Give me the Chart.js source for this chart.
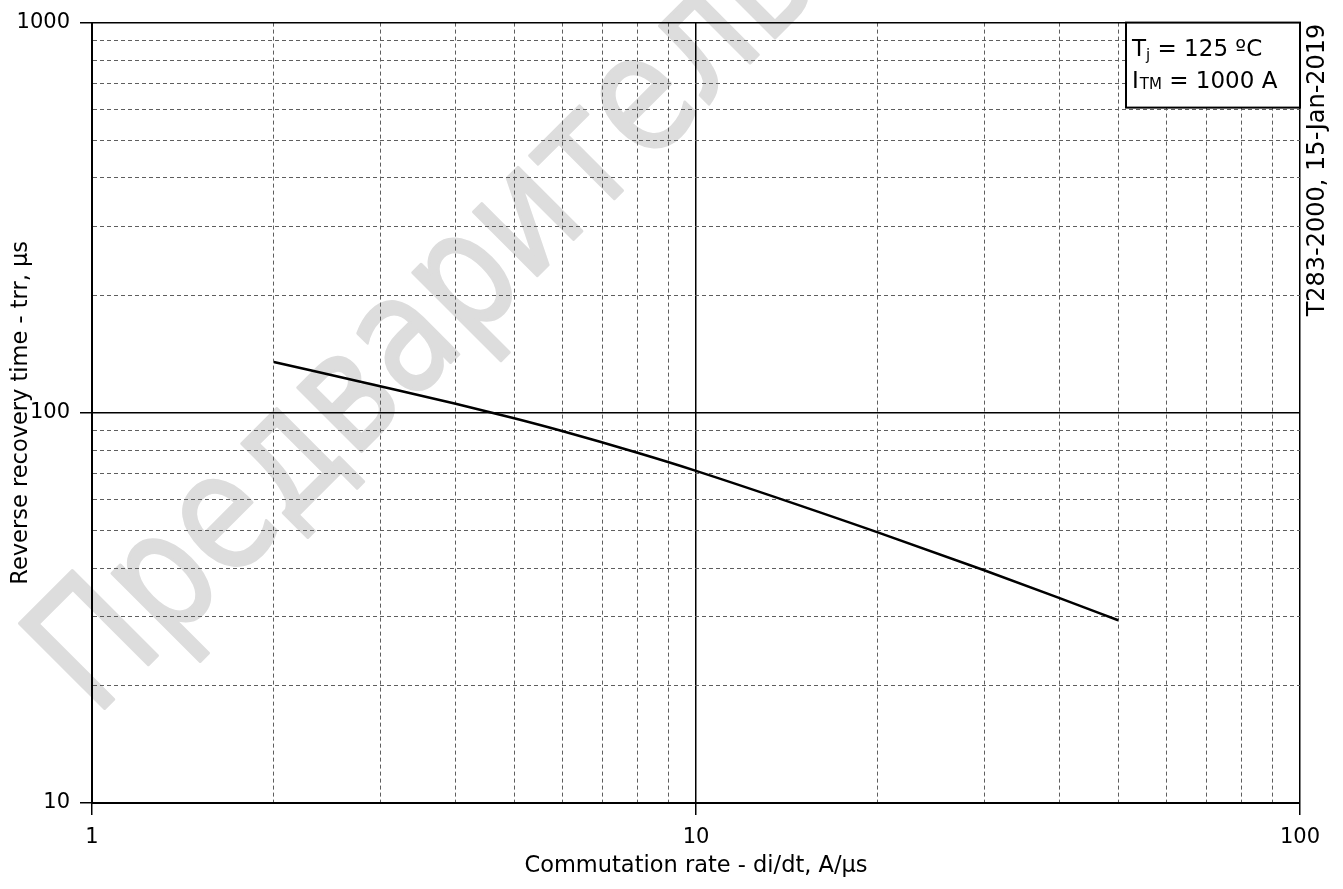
<!DOCTYPE html>
<html>
<head>
<meta charset="utf-8">
<title>Reverse recovery time vs commutation rate</title>
<script src="https://cdn.jsdelivr.net/npm/chart.js@4.4.1/dist/chart.umd.min.js"></script>
<style>
  html, body { margin: 0; padding: 0; background: #fff; }
  #wrap { width: 1343px; height: 889px; position: relative; }
</style>
</head>
<body>
<div id="wrap"><canvas id="chart"></canvas></div>
<script>
// Commutation rate di/dt, A/us
const commutationRate = [2, 3, 4, 5, 6, 8, 10, 20, 30, 40, 50];
// Reverse recovery time trr, us
const recoveryTime = [135, 117, 105.5, 96.8, 89.8, 79, 71, 49.4, 39.5, 33.5, 29.4];

// grid positions (log decades)
const xTickValues = [1, 2, 3, 4, 5, 6, 7, 8, 9, 10, 20, 30, 40, 50, 60, 70, 80, 90, 100];
const yTickValues = [10, 20, 30, 40, 50, 60, 70, 80, 90, 100, 200, 300, 400, 500, 600, 700, 800, 900, 1000];
const xMajor = [1, 10, 100];
const yMajor = [10, 100, 1000];

const conditionText = ['Tj = 125 ºC', 'ITM = 1000 A'];
const stampText = 'T283-2000, 15-Jan-2019';
const watermarkText = 'Предварительные';

const FONT = '"DejaVu Sans", Verdana, sans-serif';

// scale options shared by both axes
function logAxis(ticks, majors, min, max) {
    const isMajor = ctx => ctx.tick && majors.includes(ctx.tick.value);
    return {
        type: 'logarithmic',
        min: min,
        max: max,
        afterBuildTicks: scale => {
            scale.ticks = ticks.map(v => ({ value: v, major: majors.includes(v) }));
        },
        grid: {
            color: ctx => isMajor(ctx) ? '#000' : '#5e5e5e',
            lineWidth: ctx => isMajor(ctx) ? 1.5 : 1,
            tickColor: ctx => isMajor(ctx) ? '#000' : 'rgba(0,0,0,0)',
            tickLength: 12,
            tickWidth: 1.5
        },
        border: {
            display: true,
            color: '#000',
            width: 2,
            dash: ctx => (ctx.tick && !majors.includes(ctx.tick.value)) ? [4, 3] : []
        },
        ticks: {
            autoSkip: false,
            maxRotation: 0,
            color: '#000',
            padding: 10,
            font: { family: FONT, size: 21 },
            callback: value => majors.includes(value) ? String(value) : ''
        }
    };
}

const xAxis = logAxis(xTickValues, xMajor, 1, 100);
xAxis.title = {
    display: true,
    text: 'Commutation rate - di/dt, A/µs',
    color: '#000',
    font: { family: FONT, size: 22.5 },
    padding: { top: 0, bottom: 9 }
};
xAxis.afterFit = scale => { scale.height = 86; };

const yAxis = logAxis(yTickValues, yMajor, 10, 1000);
yAxis.title = {
    display: true,
    text: 'Reverse recovery time - trr, µs',
    color: '#000',
    font: { family: FONT, size: 22.5 },
    padding: { top: 8, bottom: 0 }
};
yAxis.afterFit = scale => { scale.width = 92; };

// big grey diagonal text behind the grid
const watermark = {
    id: 'watermark',
    beforeDraw(chart) {
        const ctx = chart.ctx;
        ctx.save();
        ctx.translate(95, 718);
        ctx.rotate(-45 * Math.PI / 180);
        ctx.scale(0.82, 1);
        ctx.fillStyle = '#dddddd';
        ctx.strokeStyle = '#dddddd';
        ctx.lineWidth = 3;
        ctx.lineJoin = 'round';
        ctx.font = '165px ' + FONT;
        ctx.textBaseline = 'alphabetic';
        ctx.textAlign = 'left';
        ctx.fillText(watermarkText, 0, 0);
        ctx.strokeText(watermarkText, 0, 0);
        ctx.restore();
    }
};

// conditions box in the top right corner + date stamp on the right
const annotations = {
    id: 'annotations',
    afterDraw(chart) {
        const ctx = chart.ctx;
        const area = chart.chartArea;
        ctx.save();

        const boxW = 174, boxH = 85;
        const bx = area.right - boxW, by = area.top;
        ctx.fillStyle = '#fff';
        ctx.fillRect(bx, by, boxW, boxH);
        ctx.strokeStyle = '#000';
        ctx.lineWidth = 2;
        ctx.strokeRect(bx, by, boxW, boxH);

        ctx.fillStyle = '#000';
        ctx.textBaseline = 'alphabetic';
        ctx.textAlign = 'left';
        const big = '23px ' + FONT, small = '15px ' + FONT;

        // line 1: T with subscript j
        let x = bx + 6;
        ctx.font = big;
        ctx.fillText('T', x, by + 33);
        x += ctx.measureText('T').width;
        ctx.font = small;
        ctx.fillText('j', x, by + 37);
        x += ctx.measureText('j').width;
        ctx.font = big;
        ctx.fillText(conditionText[0].slice(2), x, by + 33);

        // line 2: I with small TM
        x = bx + 6;
        ctx.font = big;
        ctx.fillText('I', x, by + 65);
        x += ctx.measureText('I').width + 1;
        ctx.font = small;
        ctx.fillText('TM', x, by + 66);
        x += ctx.measureText('TM').width;
        ctx.font = big;
        ctx.fillText(conditionText[1].slice(3), x, by + 65);

        // vertical stamp
        ctx.translate(1318, 170);
        ctx.rotate(-Math.PI / 2);
        ctx.font = '24px ' + FONT;
        ctx.textAlign = 'center';
        ctx.textBaseline = 'middle';
        ctx.fillText(stampText, 0, 0);

        ctx.restore();
    }
};

const ctx = document.getElementById('chart').getContext('2d');
new Chart(ctx, {
    type: 'line',
    data: {
        datasets: [{
            data: commutationRate.map((x, i) => ({ x: x, y: recoveryTime[i] })),
            borderColor: '#000',
            borderWidth: 2.5,
            pointRadius: 0,
            fill: false,
            cubicInterpolationMode: 'monotone'
        }]
    },
    options: {
        responsive: true,
        maintainAspectRatio: false,
        animation: false,
        layout: { padding: { top: 22, right: 43, left: 0, bottom: 0 } },
        plugins: {
            legend: { display: false },
            tooltip: { enabled: false }
        },
        scales: {
            x: xAxis,
            y: yAxis
        }
    },
    plugins: [watermark, annotations]
});
</script>
</body>
</html>
